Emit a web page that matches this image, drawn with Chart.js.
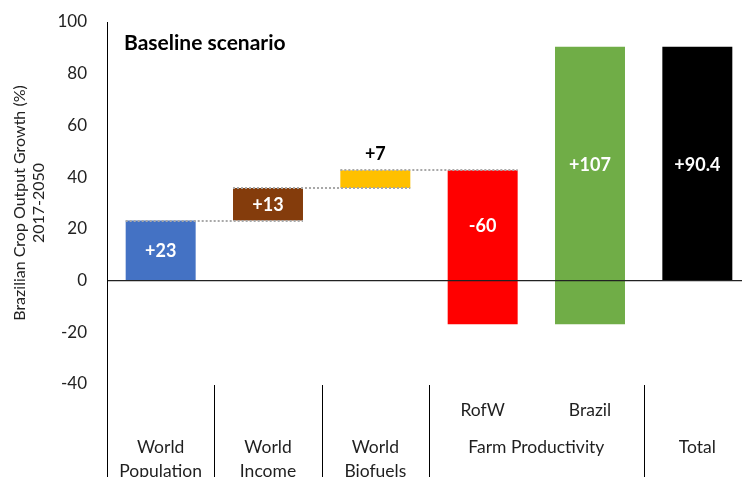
<!DOCTYPE html>
<html>
<head>
<meta charset="utf-8">
<script src="https://cdn.jsdelivr.net/npm/chart.js@4/dist/chart.umd.min.js"></script>
<style>
  html, body { margin: 0; padding: 0; overflow: hidden; background: #fff; }
</style>
</head>
<body>
<canvas id="myChart" width="751" height="477"></canvas>
<script>
// waterfall steps, then the total
var categories = ['World Population', 'World Income', 'World Biofuels', 'RofW', 'Brazil', 'Total'];
var steps = [23.2, 12.6, 6.9, -59.6, 107.3];
var total = 90.4;
var barColors = ['#4472C4', '#843C0C', '#FFC000', '#FF0000', '#70AD47', '#000000'];

// two-row category axis
var subLabels = ['', '', '', 'RofW', 'Brazil', ''];
var groupNames = [['World', 'Population'], ['World', 'Income'], ['World', 'Biofuels'], ['Farm Productivity'], ['Total']];
var groupSpans = [1, 1, 1, 2, 1];
var connectFrom = [0, 1, 2];

var yTicks = { min: -40, max: 100, step: 20 };

// floating bars [start, end]
var bars = [];
var level = 0;
steps.forEach(function (d) {
  bars.push([level, level + d]);
  level += d;
});
bars.push([0, total]);

var valueText = steps.map(function (d) {
  return (d > 0 ? '+' : '') + Math.round(d);
});
valueText.push('+' + total.toFixed(1));

var FONT = 'Lato';

var overlay = {
  id: 'overlay',
  afterDatasetsDraw: function (chart) {
    var ctx = chart.ctx, y = chart.scales.y, area = chart.chartArea;
    var meta = chart.getDatasetMeta(0).data;
    ctx.save();

    // dotted connectors between steps
    ctx.strokeStyle = '#A8A8A8';
    ctx.lineWidth = 2;
    ctx.setLineDash([2, 2]);
    connectFrom.forEach(function (i) {
      var a = meta[i], b = meta[i + 1];
      var py = Math.round(y.getPixelForValue(bars[i][1]));
      ctx.beginPath();
      ctx.moveTo(a.x - a.width / 2, py);
      ctx.lineTo(b.x + b.width / 2, py);
      ctx.stroke();
    });
    ctx.setLineDash([]);

    // zero line on top of the bars
    var y0 = y.getPixelForValue(0);
    ctx.strokeStyle = '#222';
    ctx.lineWidth = 1.2;
    ctx.beginPath();
    ctx.moveTo(area.left, y0);
    ctx.lineTo(area.right, y0);
    ctx.stroke();

    // value labels, centred on the part of the bar above zero
    ctx.font = 'bold 18px ' + FONT;
    ctx.textAlign = 'center';
    ctx.textBaseline = 'middle';
    bars.forEach(function (b, i) {
      var lo = Math.max(Math.min(b[0], b[1]), 0);
      var hi = Math.max(b[0], b[1]);
      var pTop = y.getPixelForValue(hi);
      var pBot = y.getPixelForValue(lo);
      var el = meta[i];
      if (pBot - pTop < 25) {
        ctx.fillStyle = '#000';
        ctx.fillText(valueText[i], el.x, pTop - 16);
      } else {
        ctx.fillStyle = '#fff';
        ctx.fillText(valueText[i], el.x, (pTop + pBot) / 2 + 1);
      }
    });
    ctx.restore();
  },
  afterDraw: function (chart) {
    var ctx = chart.ctx, x = chart.scales.x, area = chart.chartArea;
    var H = chart.height;
    var half = (x.getPixelForValue(1) - x.getPixelForValue(0)) / 2;
    ctx.save();

    // y axis line runs down through the category rows
    ctx.strokeStyle = '#000';
    ctx.lineWidth = 1;
    ctx.beginPath();
    ctx.moveTo(area.left + 0.5, area.top);
    ctx.lineTo(area.left + 0.5, H);
    ctx.stroke();

    // group separators and labels
    ctx.fillStyle = '#1f1f1f';
    ctx.textAlign = 'center';
    ctx.textBaseline = 'middle';
    ctx.font = '17.5px ' + FONT;
    var idx = 0;
    groupNames.forEach(function (lines, g) {
      var first = idx, last = idx + groupSpans[g] - 1;
      var cx = (x.getPixelForValue(first) + x.getPixelForValue(last)) / 2;
      lines.forEach(function (t, k) {
        ctx.fillText(t, cx, area.bottom + 63 + k * 24);
      });
      var right = Math.round(x.getPixelForValue(last) + half) + 0.5;
      if (g < groupNames.length - 1) {
        ctx.beginPath();
        ctx.moveTo(right, area.bottom + 1);
        ctx.lineTo(right, H);
        ctx.stroke();
      }
      idx = last + 1;
    });

    subLabels.forEach(function (t, i) {
      if (t) ctx.fillText(t, x.getPixelForValue(i), area.bottom + 26);
    });

    ctx.font = 'bold 21px ' + FONT;
    ctx.textAlign = 'left';
    ctx.fillStyle = '#000';
    ctx.fillText('Baseline scenario', area.left + 17, 43);
    ctx.restore();
  }
};

var myChart = document.getElementById('myChart').getContext('2d');
var WaterfallChart = new Chart(myChart, {
  type: 'bar',
  data: {
    labels: categories,
    datasets: [{
      data: bars,
      backgroundColor: barColors,
      borderWidth: 0,
      borderSkipped: false,
      categoryPercentage: 1,
      barPercentage: 0.652
    }]
  },
  options: {
    responsive: false,
    animation: false,
    layout: { padding: { top: 22, right: 0, bottom: 0, left: 0 } },
    plugins: { legend: { display: false }, tooltip: { enabled: false } },
    scales: {
      x: {
        type: 'category',
        offset: true,
        grid: { display: false, drawTicks: false },
        border: { display: false },
        ticks: { display: false },
        afterFit: function (s) { s.height = 93; }
      },
      y: {
        min: yTicks.min,
        max: yTicks.max,
        grid: { display: false, drawTicks: false },
        border: { display: false },
        ticks: {
          stepSize: yTicks.step,
          padding: 20,
          color: '#222',
          font: { family: FONT, size: 17 }
        },
        title: {
          display: true,
          text: ['Brazilian Crop Output Growth (%)', '2017-2050'],
          color: '#222',
          padding: { top: 10, bottom: 0 },
          font: { family: FONT, size: 16 }
        },
        afterFit: function (s) {
          s.width = 107;
          s.paddingTop = 0;
          s.paddingBottom = 0;
        }
      }
    }
  },
  plugins: [overlay]
});
</script>
</body>
</html>
